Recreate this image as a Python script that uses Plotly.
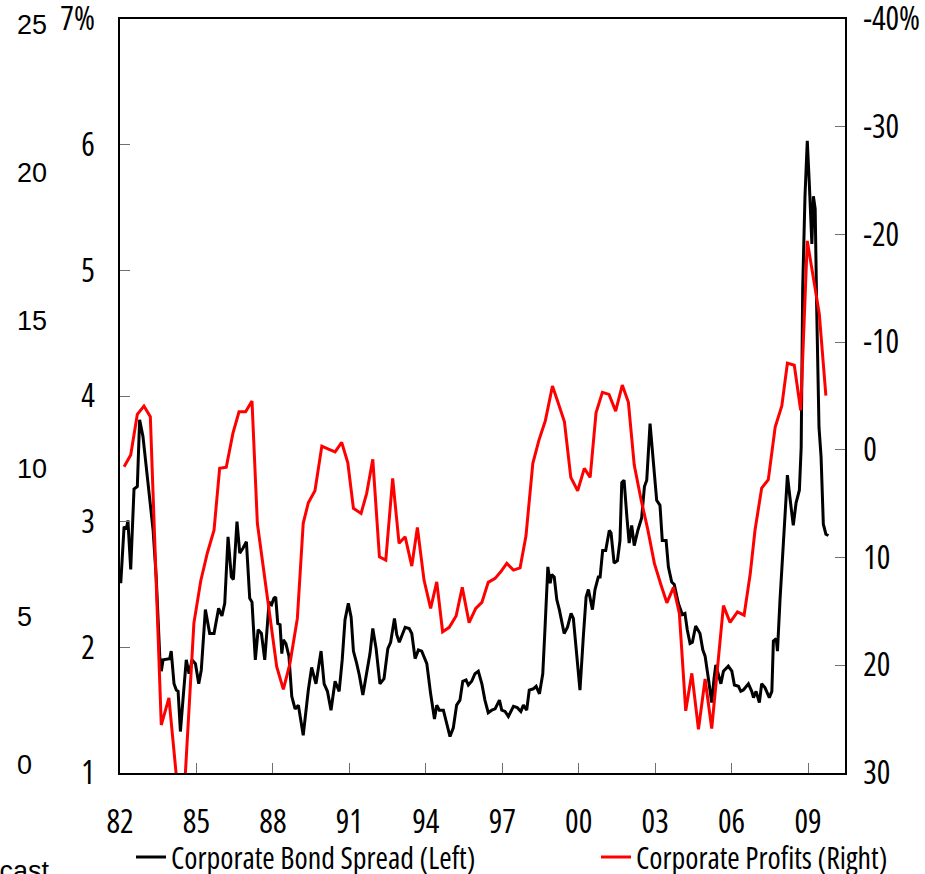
import plotly.graph_objects as go

# ---------------- data ----------------
spread_years = [1982.03,1982.16,1982.25,1982.31,1982.42,1982.55,1982.68,1982.77,1982.90,1983.03,1983.17,1983.30,1983.42,1983.56,1983.62,1983.69,1983.95,1984.01,1984.12,1984.21,1984.28,1984.37,1984.47,1984.60,1984.71,1984.83,1984.96,1985.09,1985.19,1985.35,1985.52,1985.69,1985.87,1986.00,1986.11,1986.24,1986.37,1986.45,1986.59,1986.70,1986.83,1986.96,1987.09,1987.18,1987.31,1987.42,1987.55,1987.68,1987.85,1987.95,1988.04,1988.11,1988.19,1988.28,1988.35,1988.41,1988.51,1988.63,1988.74,1988.87,1989.00,1989.19,1989.39,1989.52,1989.69,1989.89,1990.01,1990.14,1990.28,1990.44,1990.60,1990.72,1990.83,1990.96,1991.07,1991.16,1991.29,1991.39,1991.53,1991.68,1991.81,1991.92,1992.05,1992.20,1992.36,1992.51,1992.62,1992.77,1992.86,1992.96,1993.08,1993.19,1993.35,1993.45,1993.58,1993.71,1993.84,1994.04,1994.19,1994.34,1994.43,1994.53,1994.69,1994.82,1994.95,1995.08,1995.21,1995.34,1995.45,1995.58,1995.67,1995.80,1995.93,1996.06,1996.20,1996.32,1996.45,1996.59,1996.72,1996.89,1996.98,1997.11,1997.24,1997.44,1997.59,1997.73,1997.83,1997.96,1998.06,1998.22,1998.33,1998.46,1998.59,1998.68,1998.79,1998.88,1998.94,1999.04,1999.14,1999.24,1999.43,1999.56,1999.70,1999.79,1999.92,2000.05,2000.18,2000.29,2000.38,2000.54,2000.64,2000.77,2000.84,2000.94,2001.06,2001.20,2001.27,2001.39,2001.52,2001.62,2001.69,2001.78,2001.89,2001.98,2002.08,2002.18,2002.32,2002.47,2002.58,2002.67,2002.80,2002.93,2003.06,2003.19,2003.28,2003.43,2003.52,2003.65,2003.75,2003.91,2004.07,2004.17,2004.26,2004.37,2004.46,2004.59,2004.76,2004.87,2004.96,2005.09,2005.22,2005.31,2005.38,2005.58,2005.68,2005.87,2006.01,2006.11,2006.27,2006.36,2006.46,2006.66,2006.79,2006.86,2006.96,2007.09,2007.18,2007.31,2007.48,2007.58,2007.64,2007.75,2007.80,2007.90,2008.03,2008.19,2008.29,2008.42,2008.53,2008.66,2008.73,2008.79,2008.88,2008.97,2009.05,2009.15,2009.21,2009.28,2009.34,2009.43,2009.51,2009.60,2009.70,2009.80]
spread_values = [2.51,2.96,2.94,3.01,2.62,3.26,3.28,3.81,3.68,3.44,3.20,2.93,2.56,1.93,1.81,1.90,1.91,1.97,1.71,1.66,1.65,1.33,1.58,1.90,1.79,1.90,1.87,1.71,1.82,2.30,2.11,2.11,2.31,2.25,2.35,2.88,2.56,2.54,3.00,2.75,2.79,2.84,2.39,2.36,1.90,2.14,2.11,1.90,2.36,2.34,2.39,2.40,2.19,2.18,1.95,2.06,2.03,1.93,1.61,1.51,1.54,1.30,1.66,1.84,1.71,1.97,1.71,1.65,1.50,1.73,1.65,1.90,2.22,2.35,2.24,1.97,1.87,1.78,1.62,1.79,1.95,2.15,1.99,1.71,1.75,1.99,2.04,2.23,2.10,2.04,2.10,2.16,2.15,2.11,1.91,1.98,1.97,1.87,1.63,1.43,1.54,1.50,1.50,1.40,1.29,1.36,1.54,1.58,1.73,1.74,1.70,1.73,1.79,1.81,1.71,1.58,1.48,1.50,1.51,1.58,1.50,1.49,1.45,1.53,1.52,1.49,1.54,1.50,1.66,1.67,1.69,1.63,1.79,2.16,2.64,2.51,2.58,2.56,2.38,2.30,2.11,2.16,2.27,2.23,1.95,1.66,2.08,2.40,2.46,2.30,2.46,2.56,2.56,2.77,2.77,2.93,2.91,2.67,2.69,2.85,3.31,3.33,3.04,2.83,2.97,2.81,2.93,3.03,3.28,3.33,3.78,3.44,3.17,3.13,2.85,2.85,2.64,2.52,2.50,2.35,2.26,2.27,2.14,2.03,2.04,2.17,2.11,1.98,1.93,1.75,1.56,1.75,1.86,1.71,1.81,1.85,1.81,1.70,1.69,1.65,1.66,1.71,1.65,1.60,1.65,1.56,1.71,1.68,1.60,1.65,2.05,2.07,1.97,2.38,2.85,3.37,3.19,2.97,3.15,3.25,3.59,4.86,5.59,6.03,5.69,5.21,5.59,5.49,4.69,3.75,3.52,2.98,2.90,2.89]

profit_years = [1982.16,1982.42,1982.68,1982.94,1983.19,1983.62,1983.92,1984.22,1984.47,1984.90,1985.17,1985.43,1985.69,1985.91,1986.17,1986.43,1986.67,1986.93,1987.18,1987.39,1988.15,1988.41,1988.67,1988.96,1989.19,1989.39,1989.65,1989.92,1990.18,1990.44,1990.70,1990.94,1991.16,1991.46,1991.68,1991.92,1992.18,1992.43,1992.70,1992.95,1993.19,1993.45,1993.67,1993.93,1994.19,1994.43,1994.66,1994.92,1995.19,1995.43,1995.70,1995.96,1996.20,1996.45,1996.72,1996.94,1997.18,1997.44,1997.70,1997.93,1998.20,1998.44,1998.69,1998.97,1999.20,1999.44,1999.69,1999.96,2000.22,2000.45,2000.68,2000.93,2001.19,2001.45,2001.71,2001.95,2002.18,2002.45,2002.71,2002.97,2003.23,2003.46,2003.72,2003.95,2004.20,2004.44,2004.70,2004.96,2005.22,2005.68,2005.94,2006.23,2006.49,2006.73,2006.92,2007.18,2007.44,2007.71,2007.97,2008.19,2008.46,2008.71,2008.97,2009.21,2009.44,2009.70]
profit_values = [1.57,0.48,-3.30,-4.07,-3.07,25.55,23.02,30.5,34.0,16.08,12.15,9.55,7.45,1.72,1.62,-1.53,-3.54,-3.54,-4.53,6.82,20.14,22.24,19.82,15.65,6.82,4.91,3.80,-0.35,-0.07,0.18,-0.70,1.20,5.43,5.90,4.04,0.88,9.93,10.23,2.65,8.68,8.07,10.79,7.20,12.09,14.72,12.25,16.89,16.48,15.43,12.77,16.05,14.72,14.16,12.30,11.93,11.32,10.54,11.16,10.95,8.00,1.25,-0.91,-2.70,-5.92,-4.32,-2.61,2.55,3.80,1.72,2.55,-3.44,-5.34,-5.15,-3.60,-6.02,-4.41,1.41,4.66,7.38,10.54,12.55,14.20,12.77,15.18,24.23,20.75,25.95,21.28,25.87,14.46,16.02,15.04,15.35,11.53,7.44,3.55,2.77,-2.12,-4.07,-8.05,-7.86,-3.68,-19.40,-15.77,-12.65,-5.04]

assert len(spread_years) == len(spread_values), (len(spread_years), len(spread_values))
assert len(profit_years) == len(profit_values), (len(profit_years), len(profit_values))

x_tick_years = [1982, 1985, 1988, 1991, 1994, 1997, 2000, 2003, 2006, 2009]
x_tick_labels = ["82", "85", "88", "91", "94", "97", "00", "03", "06", "09"]
left_ticks = [1, 2, 3, 4, 5, 6, 7]
left_labels = ["1", "2", "3", "4", "5", "6", "7%"]
right_ticks = [-40, -30, -20, -10, 0, 10, 20, 30]
right_labels = ["-40%", "-30", "-20", "-10", "0", "10", "20", "30"]
outer_ticks = [0, 5, 10, 15, 20, 25]
series_names = ["Corporate Bond Spread (Left)", "Corporate Profits (Right)"]


def narrow(s):
    return '<span style="font-stretch:condensed">' + s + '</span>'


COND = "Open Sans"
ARIAL = "Liberation Sans, Arial, sans-serif"
TICKCOL = "#707070"

fig = go.Figure()
fig.add_trace(go.Scatter(x=spread_years, y=spread_values, mode="lines",
                         name=narrow(series_names[0]), legend="legend",
                         line=dict(color="black", width=3), yaxis="y"))
fig.add_trace(go.Scatter(x=profit_years, y=profit_values, mode="lines",
                         name=narrow(series_names[1]), legend="legend2",
                         line=dict(color="#ff0000", width=3), yaxis="y2"))
fig.add_trace(go.Scatter(x=[], y=[], yaxis="y3", showlegend=False, hoverinfo="skip"))

W, H = 925, 874
ML, MR, MT, MB = 12, 80, 19, 101
paper_w = W - ML - MR
plot_h = H - MT - MB
PLOT_LEFT = 120

legend_common = dict(orientation="h", xanchor="left", yanchor="middle",
                     y=-(857 - (H - MB)) / plot_h,
                     font=dict(family=COND, size=30, color="black"),
                     bgcolor="rgba(0,0,0,0)", borderwidth=0)

fig.update_layout(
    width=W, height=H,
    margin=dict(l=ML, r=MR, t=MT, b=MB, autoexpand=False),
    paper_bgcolor="white", plot_bgcolor="white",
    showlegend=True,
    xaxis=dict(domain=[(PLOT_LEFT - ML) / paper_w, 1], range=[1982, 2010.45],
               tickvals=x_tick_years, ticktext=[narrow(t) for t in x_tick_labels],
               ticks="inside", ticklen=10, tickcolor=TICKCOL, tickwidth=1,
               showline=True, linecolor="black", linewidth=1.5, mirror=True,
               showgrid=False, zeroline=False, ticklabelstandoff=20, automargin=False,
               ticklabeloverflow="allow",
               tickfont=dict(family=COND, size=32, color="black")),
    yaxis=dict(range=[1, 7], tickvals=left_ticks, ticktext=[narrow(t) for t in left_labels],
               ticks="inside", ticklen=10, tickcolor=TICKCOL, tickwidth=1,
               showline=True, linecolor="black", linewidth=1.5, automargin=False,
               showgrid=False, zeroline=False, ticklabelstandoff=17,
               ticklabeloverflow="allow",
               tickfont=dict(family=COND, size=32, color="black")),
    yaxis2=dict(range=[30, -40], overlaying="y", side="right", anchor="x",
                tickvals=right_ticks, ticktext=[narrow(t) for t in right_labels],
                ticks="inside", ticklen=10, tickcolor=TICKCOL, tickwidth=1,
                showline=True, linecolor="black", linewidth=1.5, automargin=False,
                showgrid=False, zeroline=False, ticklabelstandoff=10,
                ticklabeloverflow="allow",
                tickfont=dict(family=COND, size=32, color="black")),
    yaxis3=dict(range=[-0.27, 25.2], overlaying="y", anchor="free", position=0,
                side="right", tickvals=outer_ticks, ticks="", showline=False,
                showgrid=False, zeroline=False, ticklabelstandoff=4, automargin=False,
                ticklabeloverflow="allow",
                tickfont=dict(family=ARIAL, size=27, color="black")),
    legend=dict(legend_common, x=(131 - ML) / paper_w),
    legend2=dict(legend_common, x=(596 - ML) / paper_w),
    annotations=[dict(text="Forecast", xref="paper", yref="paper",
                      x=(52 - ML) / paper_w, xanchor="right",
                      y=-(871 - (H - MB)) / plot_h, yanchor="middle", showarrow=False,
                      font=dict(family=ARIAL, size=27, color="black"))],
)

# drop the page's default 8px body margin so the figure fills the window exactly
fig.write_html("out.html", config={"displayModeBar": False},
               post_script="document.body.style.margin='0px';")
